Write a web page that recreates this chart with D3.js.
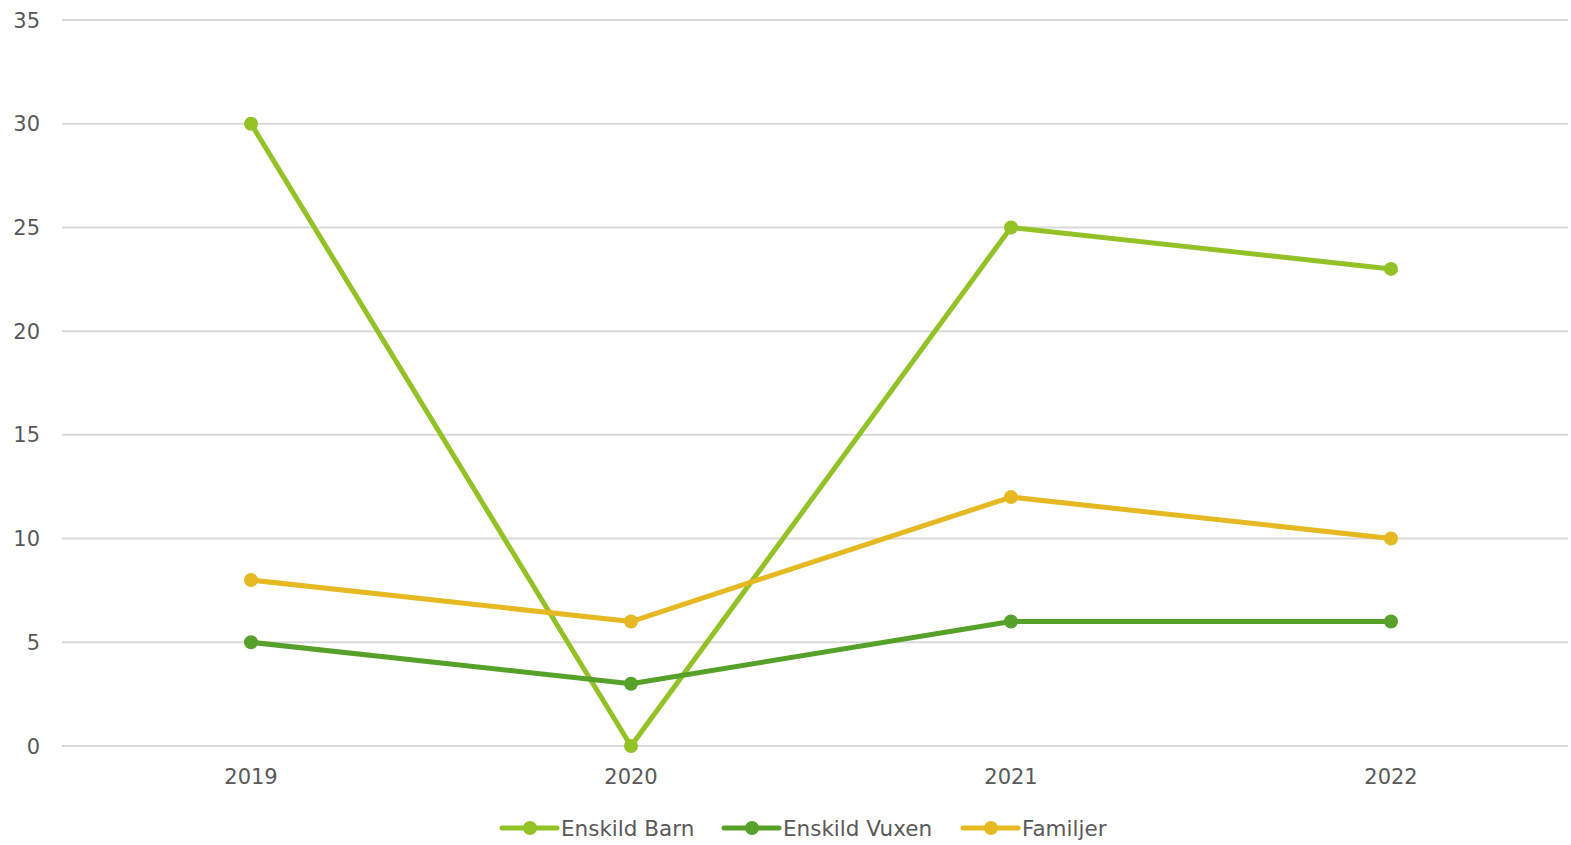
<!DOCTYPE html>
<html>
<head>
<meta charset="utf-8">
<script src="https://cdn.jsdelivr.net/npm/d3@7"></script>
<style>
	html, body { margin: 0; background: #fff; overflow: hidden; }
	svg { display: block; }
	text { font-family: "DejaVu Sans", sans-serif; fill: #595959; }
</style>
</head>
<body>
<script>
var years = ["2019", "2020", "2021", "2022"];
var enskildBarn = [30, 0, 25, 23];
var enskildVuxen = [5, 3, 6, 6];
var familjer = [8, 6, 12, 10];
var yTicks = [0, 5, 10, 15, 20, 25, 30, 35];

var series = [
	{ name: "Enskild Barn", values: enskildBarn, color: "#92c226" },
	{ name: "Enskild Vuxen", values: enskildVuxen, color: "#56a12a" },
	{ name: "Familjer", values: familjer, color: "#e6b922" },
];

var width = 1571;
var height = 845;

var svg = d3
	.select("body")
	.append("svg")
	.attr("width", width)
	.attr("height", height);

var x = d3.scalePoint().domain(years).range([61, 1581]).padding(0.5);
var y = d3.scaleLinear().domain([0, 35]).range([746, 20]);

// gridlines
svg
	.selectAll(".grid")
	.data(yTicks)
	.join("line")
	.attr("x1", 62)
	.attr("x2", 1568)
	.attr("y1", (d) => y(d))
	.attr("y2", (d) => y(d))
	.style("stroke", "#d9d9d9")
	.style("stroke-width", 2);

// y labels
svg
	.selectAll(".ylab")
	.data(yTicks)
	.join("text")
	.attr("x", 40)
	.attr("y", (d) => y(d))
	.attr("dy", "0.36em")
	.style("text-anchor", "end")
	.style("font-size", "21px")
	.text((d) => d);

// x labels
svg
	.selectAll(".xlab")
	.data(years)
	.join("text")
	.attr("x", (d) => x(d))
	.attr("y", 776)
	.attr("dy", "0.36em")
	.style("text-anchor", "middle")
	.style("font-size", "21px")
	.text((d) => d);

var line = d3
	.line()
	.x((d, i) => x(years[i]))
	.y((d) => y(d));

series.forEach((s) => {
	svg
		.append("path")
		.attr("d", line(s.values))
		.style("fill", "none")
		.style("stroke", s.color)
		.style("stroke-width", 5)
		.style("stroke-linejoin", "round");

	svg
		.selectAll(null)
		.data(s.values)
		.join("circle")
		.attr("cx", (d, i) => x(years[i]))
		.attr("cy", (d) => y(d))
		.attr("r", 7)
		.style("fill", s.color);
});

// legend
var legendX = [502, 724, 963];
var legend = svg
	.selectAll(".legend")
	.data(series)
	.join("g")
	.attr("transform", (d, i) => "translate(" + legendX[i] + ",828)");

legend
	.append("line")
	.attr("x1", 0)
	.attr("x2", 55)
	.style("stroke", (d) => d.color)
	.style("stroke-width", 5)
	.style("stroke-linecap", "round");

legend
	.append("circle")
	.attr("cx", 28)
	.attr("r", 7)
	.style("fill", (d) => d.color);

legend
	.append("text")
	.attr("x", 59)
	.attr("dy", "0.36em")
	.style("font-size", "21.5px")
	.text((d) => d.name);
</script>
</body>
</html>
